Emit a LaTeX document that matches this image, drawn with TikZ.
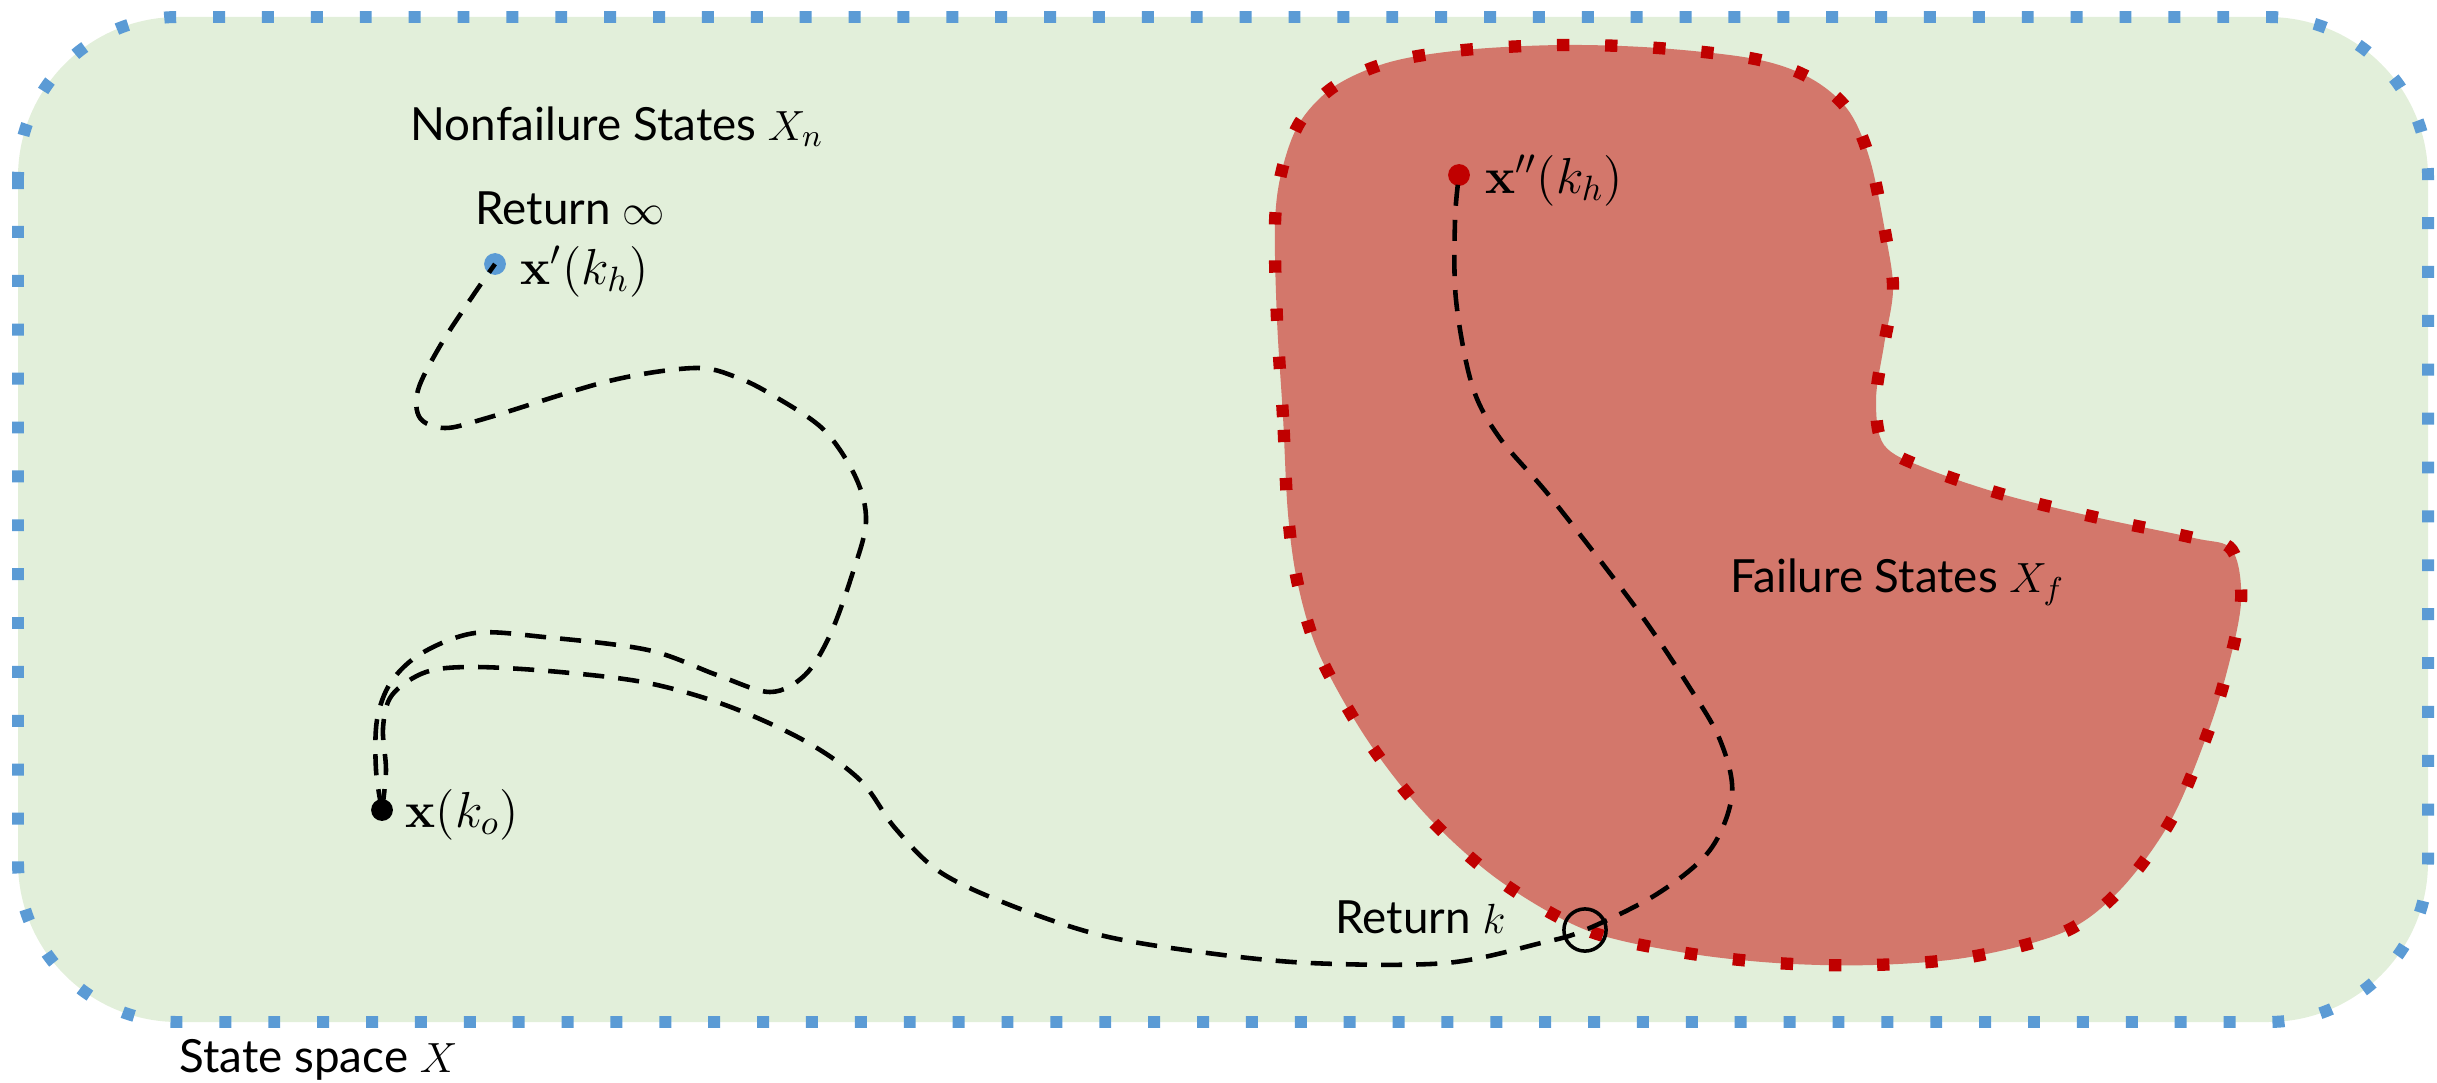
\documentclass[tikz,border=0pt]{standalone}
\usepackage[no-math]{fontspec}
\setmainfont{Lato}
\usetikzlibrary{positioning}

\definecolor{safegreen}{HTML}{E2EFDA}
\definecolor{bluedot}{HTML}{5B9BD5}
\definecolor{failfill}{HTML}{D3776B}
\definecolor{reddot}{HTML}{C00000}

\begin{document}
\begin{tikzpicture}[
    x=0.01cm, y=-0.01cm,
    spaceborder/.style={draw=bluedot, line width=3.4pt,
                        dash pattern=on 3.4pt off 10.5pt, fill=safegreen},
    failborder/.style={draw=reddot, line width=3.5pt,
                       dash pattern=on 3.5pt off 10.2pt, fill=failfill},
    traj/.style={line width=1.3pt, dash pattern=on 6pt off 4pt},
    statept/.style={circle, inner sep=0pt, minimum size=6.2pt},
    lbl/.style={font=\fontsize{13}{15}\selectfont, inner sep=0pt, anchor=base west},
    ptlbl/.style={lbl, font=\fontsize{14}{16}\selectfont},
]

    \useasboundingbox (0,0) rectangle (2437,1082);

    % state space and failure set
    \path[spaceborder, rounded corners=1.6cm] (18,17) rectangle (2428,1022);
    \path[failborder] plot[smooth cycle, tension=0.55] coordinates {
        (1288,514) (1283,417) (1277,320) (1275,223) (1282,170) (1300,122)
        (1335,86) (1390,62) (1464,50) (1562,45) (1658,48) (1755,59)
        (1810,78) (1848,110) (1870,160) (1886,237) (1893,290) (1884,345)
        (1876,400) (1884,445) (1925,468) (2005,495) (2099,518) (2194,538)
        (2232,550) (2241,602) (2226,675) (2204,743) (2170,822) (2120,890)
        (2064,932) (1970,957) (1873,965) (1776,963) (1680,952) (1586,930)
        (1500,881) (1428,817) (1368,741) (1320,656) (1298,585)
    };

    % states
    \node[statept, fill=black] (xo) at (382,810) {};
    \node[statept, fill=bluedot] (xp) at (495,264) {};
    \node[statept, fill=reddot] (xpp) at (1459,175) {};
    \node[circle, draw, line width=1pt, minimum size=12pt, inner sep=0pt] (hit) at (1585,930) {};

    % trajectories
    \draw[traj] plot[smooth, tension=0.55] coordinates {
        (xo.center) (376,770) (377,720) (391,682) (422,653) (475,633)
        (544,637) (648,650) (717,675) (770,692) (805,675) (830,635)
        (852,575) (866,522) (856,478) (824,430) (774,396) (736,377)
        (694,368) (609,381) (487,418) (445,428) (420,418) (418,390)
        (440,346) (472,297) (xp.center)
    };
    \draw[traj] plot[smooth, tension=0.55] coordinates {
        (xo.center) (386,770) (383,728) (392,695) (426,672) (475,667)
        (560,672) (648,683) (728,706) (805,741) (860,780) (895,828)
        (940,872) (1010,905) (1100,935) (1200,952) (1310,963) (1446,963)
        (1541,943) (hit.center) (1657,894) (1710,850) (1732,794)
        (1720,740) (1688,685) (1636,608) (1552,499) (1499,437)
        (1472,385) (1456,300) (1455,220) (xpp.center)
    };

    % labels
    \node[lbl] (nflab) at (410,140) {Nonfailure States $X_n$};
    \node[lbl] (infret) at (475,225) {Return $\infty$};
    \node[ptlbl] (xplab) at (520,284) {$\mathbf{x}'(k_h)$};
    \node[ptlbl] (xolab) at (405,827) {$\mathbf{x}(k_o)$};
    \node[ptlbl] (xpplab) at (1485,193) {$\mathbf{x}''(k_h)$};
    \node[lbl] (flab) at (1730,592) {Failure States $X_f$};
    \node[lbl] (kret) at (1335,933) {Return $k$};
    \node[lbl] (sslab) at (179,1072) {State space $X$};

\end{tikzpicture}
\end{document}
